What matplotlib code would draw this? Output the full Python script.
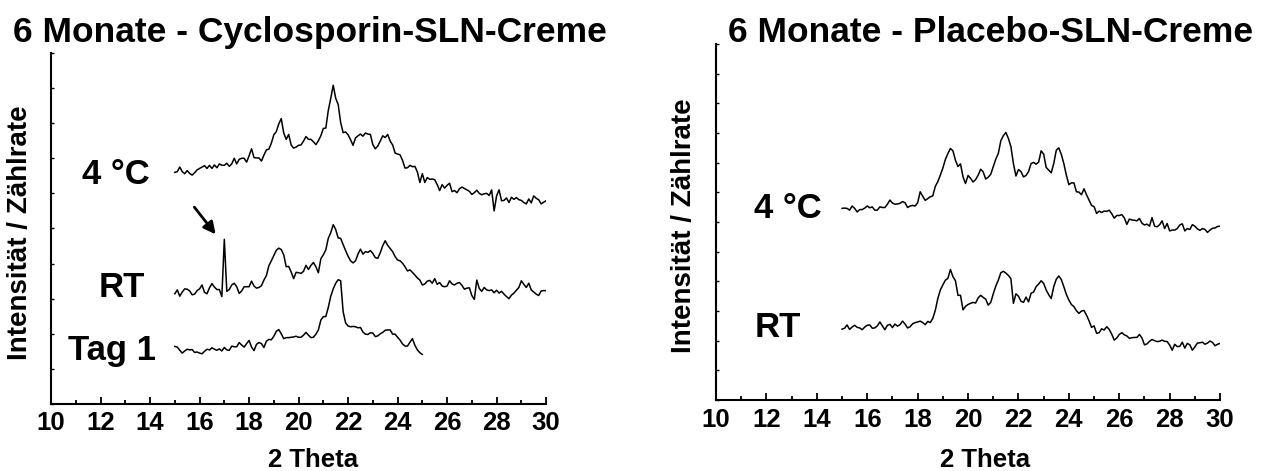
import numpy as np
import matplotlib
matplotlib.use("Agg")
import matplotlib.pyplot as plt
from matplotlib.ticker import MultipleLocator

plt.rcParams["font.family"] = ["Liberation Sans", "DejaVu Sans"]
plt.rcParams["font.weight"] = "bold"

# 2 Theta scan grids (0.1 deg step)
two_theta = np.linspace(15, 30, 151)
two_theta_day1 = np.linspace(15, 25, 101)

# Cyclosporin-SLN-Creme, stacked intensities (arbitrary units, offset)
cyc_4c = [
    6.60, 6.62, 6.75, 6.62, 6.56, 6.65, 6.57, 6.52, 6.59, 6.67,
    6.71, 6.75, 6.79, 6.71, 6.80, 6.71, 6.81, 6.73, 6.84, 6.80,
    6.80, 6.86, 6.77, 6.84, 7.00, 6.84, 6.97, 7.00, 7.00, 6.89,
    7.07, 7.27, 7.02, 7.01, 7.01, 6.92, 7.09, 7.24, 7.26, 7.43,
    7.67, 7.76, 7.98, 8.13, 7.72, 7.54, 7.68, 7.38, 7.29, 7.32,
    7.37, 7.38, 7.49, 7.62, 7.54, 7.54, 7.47, 7.39, 7.50, 7.64,
    7.85, 7.86, 8.36, 8.71, 9.08, 8.71, 8.53, 8.02, 7.73, 7.75,
    7.67, 7.53, 7.37, 7.58, 7.64, 7.69, 7.63, 7.72, 7.69, 7.68,
    7.39, 7.27, 7.35, 7.49, 7.64, 7.59, 7.68, 7.49, 7.38, 7.15,
    7.12, 7.10, 6.94, 6.72, 6.73, 6.80, 6.76, 6.77, 6.61, 6.31,
    6.56, 6.31, 6.45, 6.40, 6.41, 6.39, 6.25, 6.08, 6.25, 6.15,
    6.23, 6.29, 6.05, 6.08, 6.02, 6.13, 6.18, 6.14, 6.10, 6.06,
    5.97, 6.02, 6.09, 6.00, 5.96, 5.99, 6.00, 5.94, 6.10, 5.50,
    5.93, 6.10, 5.79, 5.80, 5.87, 5.74, 5.89, 5.83, 5.88, 5.82,
    5.80, 5.74, 5.70, 5.84, 5.73, 5.93, 5.86, 5.82, 5.70, 5.75, 5.79,
]
cyc_rt = [
    3.14, 3.25, 3.07, 3.19, 3.28, 3.27, 3.22, 3.11, 3.13, 3.23,
    3.28, 3.39, 3.18, 3.14, 3.31, 3.43, 3.33, 3.26, 3.26, 3.06,
    4.69, 3.21, 3.26, 3.39, 3.44, 3.34, 3.15, 3.22, 3.34, 3.34,
    3.34, 3.50, 3.36, 3.30, 3.32, 3.37, 3.53, 3.66, 3.94, 4.08,
    4.23, 4.38, 4.44, 4.40, 4.25, 3.91, 3.92, 3.76, 3.57, 3.75,
    3.74, 3.72, 3.78, 3.95, 3.83, 3.95, 4.03, 3.91, 3.74, 4.14,
    4.25, 4.39, 4.72, 4.88, 5.11, 4.97, 4.73, 4.72, 4.54, 4.37,
    4.21, 4.08, 4.02, 4.08, 4.27, 4.41, 4.27, 4.34, 4.32, 4.37,
    4.29, 4.17, 4.15, 4.31, 4.51, 4.65, 4.52, 4.43, 4.34, 4.20,
    4.10, 4.08, 4.01, 3.91, 3.79, 3.82, 3.75, 3.67, 3.59, 3.53,
    3.39, 3.42, 3.50, 3.52, 3.44, 3.57, 3.41, 3.46, 3.36, 3.34,
    3.36, 3.51, 3.42, 3.39, 3.44, 3.46, 3.38, 3.27, 3.30, 3.31,
    3.09, 2.98, 3.53, 3.29, 3.21, 3.32, 3.25, 3.23, 3.25, 3.17,
    3.24, 3.16, 3.21, 3.13, 3.06, 3.00, 3.10, 3.16, 3.24, 3.32,
    3.51, 3.41, 3.32, 3.44, 3.25, 3.19, 3.13, 3.09, 3.22, 3.23, 3.23,
]
cyc_day1 = [
    1.64, 1.62, 1.53, 1.45, 1.51, 1.56, 1.54, 1.55, 1.47, 1.48,
    1.45, 1.43, 1.50, 1.56, 1.54, 1.60, 1.56, 1.53, 1.57, 1.51,
    1.61, 1.54, 1.53, 1.65, 1.63, 1.63, 1.75, 1.68, 1.62, 1.72,
    1.81, 1.62, 1.52, 1.70, 1.75, 1.72, 1.61, 1.79, 1.84, 1.83,
    1.93, 2.07, 2.12, 2.00, 1.86, 1.89, 1.89, 1.90, 1.91, 1.93,
    1.90, 1.90, 1.96, 2.04, 1.96, 1.89, 1.90, 1.99, 2.11, 2.39,
    2.49, 2.49, 2.75, 3.07, 3.28, 3.44, 3.54, 3.51, 2.63, 2.31,
    2.22, 2.20, 2.21, 2.20, 2.17, 2.18, 2.05, 1.99, 1.98, 2.03,
    2.02, 1.92, 1.94, 2.00, 2.04, 2.10, 2.11, 2.11, 1.99, 1.99,
    1.90, 1.82, 1.71, 1.65, 1.65, 1.76, 1.86, 1.67, 1.54, 1.46, 1.41,
]

# Placebo-SLN-Creme
plc_4c = [
    6.46, 6.47, 6.46, 6.40, 6.54, 6.46, 6.34, 6.42, 6.42, 6.47,
    6.54, 6.48, 6.51, 6.40, 6.40, 6.51, 6.49, 6.49, 6.60, 6.74,
    6.64, 6.60, 6.61, 6.63, 6.69, 6.65, 6.49, 6.54, 6.56, 6.54,
    6.65, 7.02, 6.87, 6.73, 6.79, 6.85, 6.88, 7.20, 7.36, 7.58,
    7.82, 8.11, 8.31, 8.48, 8.40, 8.08, 7.87, 7.96, 7.52, 7.30,
    7.57, 7.47, 7.35, 7.43, 7.58, 7.78, 7.69, 7.45, 7.51, 7.61,
    7.87, 8.12, 8.31, 8.74, 8.91, 9.02, 8.82, 8.54, 7.97, 7.55,
    7.77, 7.70, 7.52, 7.57, 7.70, 7.97, 8.01, 7.95, 8.02, 8.40,
    8.29, 7.84, 7.75, 7.66, 7.97, 8.42, 8.50, 8.28, 7.97, 7.58,
    7.26, 7.32, 7.32, 7.02, 7.01, 6.92, 7.12, 6.92, 6.74, 6.56,
    6.52, 6.29, 6.37, 6.32, 6.37, 6.36, 6.40, 6.28, 6.13, 6.22,
    6.22, 6.25, 6.14, 5.92, 6.10, 6.07, 6.06, 6.04, 6.12, 5.96,
    5.90, 5.93, 5.86, 6.15, 5.86, 5.84, 5.91, 6.04, 5.78, 5.95,
    5.70, 5.73, 5.73, 5.78, 5.90, 5.94, 5.70, 5.78, 5.75, 5.91,
    5.86, 5.77, 5.72, 5.78, 5.75, 5.65, 5.73, 5.79, 5.80, 5.85, 5.86,
]
plc_rt = [
    2.39, 2.42, 2.53, 2.38, 2.46, 2.52, 2.45, 2.43, 2.37, 2.46,
    2.52, 2.53, 2.42, 2.43, 2.50, 2.63, 2.50, 2.37, 2.52, 2.55,
    2.44, 2.56, 2.49, 2.54, 2.66, 2.56, 2.43, 2.47, 2.57, 2.61,
    2.63, 2.66, 2.61, 2.54, 2.65, 2.61, 2.75, 3.02, 3.42, 3.71,
    3.88, 4.04, 4.10, 4.40, 4.16, 4.02, 3.53, 3.53, 3.04, 3.16,
    3.22, 3.26, 3.29, 3.27, 3.44, 3.53, 3.46, 3.40, 3.20, 3.29,
    3.58, 3.84, 4.04, 4.29, 4.34, 4.28, 4.20, 4.09, 3.26, 3.58,
    3.50, 3.33, 3.29, 3.47, 3.31, 3.60, 3.64, 3.82, 3.91, 4.02,
    3.93, 3.71, 3.55, 3.42, 3.82, 4.07, 4.18, 4.06, 3.82, 3.56,
    3.37, 3.22, 3.15, 3.01, 2.92, 3.00, 3.02, 2.86, 2.67, 2.45,
    2.50, 2.25, 2.27, 2.40, 2.36, 2.47, 2.38, 2.22, 2.02, 2.09,
    2.21, 2.27, 2.20, 2.16, 2.08, 2.10, 2.11, 2.11, 2.21, 2.09,
    1.86, 1.89, 1.98, 2.04, 2.00, 1.97, 1.98, 2.02, 1.98, 1.97,
    1.85, 1.68, 1.88, 1.80, 1.81, 1.95, 1.75, 1.91, 1.86, 1.68,
    1.79, 1.92, 1.93, 1.95, 1.88, 1.92, 1.99, 1.94, 1.83, 1.88, 1.91,
]

titles = ["6 Monate - Cyclosporin-SLN-Creme", "6 Monate - Placebo-SLN-Creme"]
left_labels = ["4 °C", "RT", "Tag 1"]
left_label_pos = [(12.6, 6.55), (12.85, 3.33), (12.45, 1.52)]
right_labels = ["4 °C", "RT"]
right_label_pos = [(12.85, 6.45), (12.45, 2.46)]


def style_axes(ax, ymax, pad):
    ax.set_xlim(10, 30)
    ax.set_ylim(0, ymax)
    for side in ("top", "right"):
        ax.spines[side].set_visible(False)
    for side in ("left", "bottom"):
        ax.spines[side].set_linewidth(1.5)
    ax.xaxis.set_major_locator(MultipleLocator(2))
    ax.xaxis.set_minor_locator(MultipleLocator(1))
    ax.yaxis.set_major_locator(MultipleLocator(1))
    ax.tick_params(axis="x", which="major", direction="in", length=5, width=1.3,
                   labelsize=18.5, pad=pad)
    ax.tick_params(axis="x", which="minor", direction="in", length=3, width=1.3)
    ax.tick_params(axis="y", which="major", direction="in", length=2.5, width=1.0,
                   labelleft=False)
    for lab in ax.get_xticklabels():
        lab.set_fontweight("bold")


def main():
    fig = plt.figure(figsize=(12.7, 4.71), dpi=100)
    ax1 = fig.add_axes([0.0402, 0.1423, 0.3898, 0.7452])
    ax2 = fig.add_axes([0.5638, 0.1507, 0.3969, 0.7558])

    lw = 1.1
    ax1.plot(two_theta, cyc_4c, color="black", lw=lw)
    ax1.plot(two_theta, cyc_rt, color="black", lw=lw)
    ax1.plot(two_theta_day1, cyc_day1, color="black", lw=lw)
    ax2.plot(two_theta, plc_4c, color="black", lw=lw)
    ax2.plot(two_theta, plc_rt, color="black", lw=lw)

    style_axes(ax1, 10, 5.0)
    style_axes(ax2, 12, 5.7)

    for text, (x, y) in zip(left_labels, left_label_pos):
        ax1.text(x, y, text, fontsize=25, fontweight="bold", ha="center", va="center")
    for text, (x, y) in zip(right_labels, right_label_pos):
        ax2.text(x, y, text, fontsize=25, fontweight="bold", ha="center", va="center")

    # arrow pointing at the sharp reflex in the RT pattern
    spike = int(np.argmax(cyc_rt[:30]))
    sx, sy = two_theta[spike], cyc_rt[spike]
    ax1.annotate("", xy=(sx - 0.28, sy + 0.08), xytext=(sx - 1.28, sy + 0.98),
                 arrowprops=dict(arrowstyle="-|>", color="black", lw=2,
                                 mutation_scale=18))

    # axis labels placed in figure coordinates
    fig.text(313 / 1270, 1 - 467 / 471, "2 Theta", fontsize=18.5,
             fontweight="bold", ha="center", va="baseline")
    fig.text(985 / 1270, 1 - 467 / 471, "2 Theta", fontsize=18.5,
             fontweight="bold", ha="center", va="baseline")
    fig.text(20.5 / 1270, 1 - 233 / 471, "Intensität / Zählrate", fontsize=20,
             fontweight="bold", rotation=90, ha="center", va="center")
    fig.text(684 / 1270, 1 - 226 / 471, "Intensität / Zählrate", fontsize=20,
             fontweight="bold", rotation=90, ha="center", va="center")

    fig.text(0.244, 1 - 42 / 471, titles[0], fontsize=25.5, fontweight="bold",
             ha="center", va="baseline")
    fig.text(0.780, 1 - 42 / 471, titles[1], fontsize=25.5, fontweight="bold",
             ha="center", va="baseline")

    fig.savefig("out.png", dpi=100)
    plt.close(fig)


if __name__ == "__main__":
    main()
